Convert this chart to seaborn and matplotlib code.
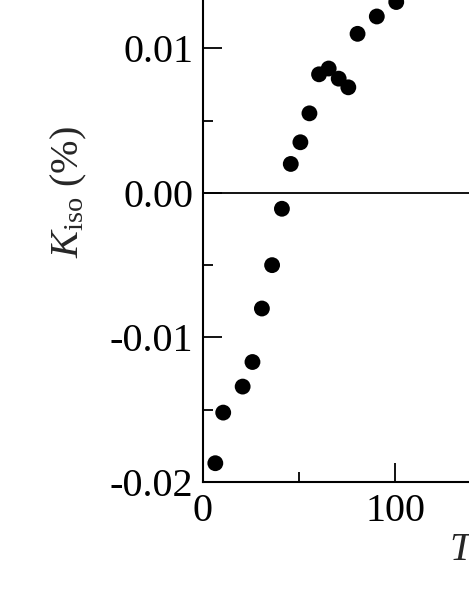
import numpy as np
import pandas as pd
import matplotlib
matplotlib.use("Agg")
import matplotlib.pyplot as plt
import seaborn as sns
from matplotlib.ticker import FormatStrFormatter, MultipleLocator, FixedLocator

# data
temp_k = [6.4, 10.5, 20.6, 25.7, 30.6, 35.9, 41.0, 45.6, 50.6, 55.3,
          60.3, 65.3, 70.5, 75.5, 80.3, 90.3, 100.4]
k_iso  = [-0.0187, -0.0152, -0.0134, -0.0117, -0.0080, -0.0050, -0.0011,
          0.0020, 0.0035, 0.0055, 0.0082, 0.0086, 0.0079, 0.0073,
          0.0110, 0.0122, 0.0132]
df = pd.DataFrame({"T": temp_k, "K": k_iso})

sns.set_style("ticks")
plt.rcParams['font.family'] = ['Liberation Serif', 'DejaVu Serif']
plt.rcParams['mathtext.fontset'] = 'custom'
plt.rcParams['mathtext.rm'] = 'Liberation Serif'
plt.rcParams['mathtext.it'] = 'Liberation Serif:italic'
plt.rcParams['axes.unicode_minus'] = False

FS = 29
W, H = 469, 607
fig = plt.figure(figsize=(W / 100, H / 100), dpi=100)
ax = fig.add_axes([203 / W, (H - 482) / H, 1 - 203 / W, 482 / H])

sns.scatterplot(data=df, x="T", y="K", ax=ax, s=130, color="black",
                edgecolor="none", legend=False, zorder=3)
ax.axhline(0, color="black", lw=1.3, zorder=2)

ax.set_xlim(0, 138.2)
ax.set_ylim(-0.02, 0.01334)
ax.set_xlabel("")
ax.set_ylabel("")

ax.xaxis.set_major_locator(FixedLocator([0, 100]))
ax.xaxis.set_minor_locator(FixedLocator([50, 150]))
ax.yaxis.set_major_locator(MultipleLocator(0.01))
ax.yaxis.set_minor_locator(MultipleLocator(0.005))
ax.yaxis.set_major_formatter(FormatStrFormatter('%.2f'))

ax.tick_params(which="both", direction="in", width=1.3, labelsize=FS,
               color="black", labelcolor="black")
ax.tick_params(which="major", length=14)
ax.tick_params(which="minor", length=7)
ax.tick_params(axis="y", pad=7)
ax.tick_params(axis="x", pad=8)

sns.despine(ax=ax, top=True, right=True)
for side in ["left", "bottom"]:
    ax.spines[side].set_linewidth(1.5)
    ax.spines[side].set_color("black")

fig.text(69 / W, 1 - 192 / H, r"$K_{\rm iso}$ (%)", rotation=90,
         ha="center", va="center", fontsize=FS)
fig.text(449 / W, 1 - 551 / H, r"$T$ (K)", ha="left", va="center",
         fontsize=FS)

fig.savefig("out.png", dpi=100)
